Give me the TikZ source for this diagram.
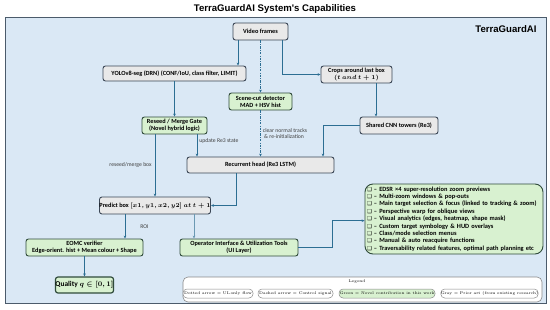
\documentclass[tikz,border=0pt]{standalone}
\usepackage{fontspec}
\usetikzlibrary{arrows.meta,positioning}
\newfontfamily\boxfont{Carlito}
\newfontfamily\titlefont{Liberation Sans}
\newfontfamily\djv{DejaVu Sans}
\definecolor{panelc}{HTML}{DAE8F5}
\definecolor{panelb}{HTML}{4B5B6B}
\definecolor{grayc}{HTML}{E9E9E9}
\definecolor{boxb}{HTML}{3B4756}
\definecolor{greenc}{HTML}{D8F1D0}
\definecolor{greenb}{HTML}{2F4A3A}
\definecolor{arrc}{HTML}{2C6E93}
\definecolor{legb}{HTML}{8A8A8A}
\newcommand{\cb}{{\djv\fontsize{5.4}{5}\selectfont ❑}\ –\ }
\begin{document}
\begin{tikzpicture}[x=1pt,y=-1pt,
  boxtxt/.style={font=\boxfont\bfseries\fontsize{6.3}{7}\selectfont},
  gbox/.style={boxtxt,draw=boxb,fill=grayc,rounded corners=2.5pt,line width=0.9pt,align=center,inner sep=0pt,minimum height=17pt},
  nbox/.style={gbox,fill=greenc,draw=greenb},
  arr/.style={draw=arrc,line width=0.8pt,-{Stealth[length=3pt,width=2.6pt]}},
  thinarr/.style={draw=arrc!70,line width=0.5pt,-{Stealth[length=3pt,width=2.6pt]}},
  ctrl/.style={arr,dash pattern=on 2.5pt off 1.2pt on 0.8pt off 1.2pt},
  lbl/.style={font=\boxfont\fontsize{5.7}{6.8}\selectfont,text=black!75,inner sep=0pt,align=left},
  legpill/.style={draw=legb,fill=white,rounded corners=4pt,line width=0.5pt,minimum height=9pt,inner sep=0pt,font=\fontsize{3.9}{4.5}\selectfont}
]
\useasboundingbox (0,0) rectangle (550,309);
\fill[white] (0,0) rectangle (550,309);
\node[font=\titlefont\bfseries\fontsize{9.6}{11}\selectfont] (title) at (275,9) {TerraGuardAI System's Capabilities};
\draw[fill=panelc,draw=panelb,line width=0.9pt] (5,17) rectangle (546,303);
\node[font=\titlefont\bfseries\fontsize{9.6}{11}\selectfont] (tg) at (506,29) {TerraGuardAI};

\node[gbox,minimum width=55pt] (video) at (260.5,31.5) {Video frames};
\node[gbox,minimum width=143pt,minimum height=15pt] (yolo) at (174.5,73.5) {YOLOv8-seg (DRN) (CONF/IoU, class filter, LIMIT)};
\node[gbox,minimum width=71pt] (crops) at (356.5,74.5) {Crops around last box\\{\boldmath$(t\ and\ t+1)$}};
\node[nbox,minimum width=63pt] (scene) at (260.5,101.5) {Scene-cut detector\\MAD + HSV hist};
\node[nbox,minimum width=65pt] (reseed) at (174.5,125.5) {Reseed / Merge Gate\\(Novel hybrid logic)};
\node[gbox,minimum width=78pt] (shared) at (399,125.5) {Shared CNN towers (Re3)};
\node[gbox,minimum width=147pt,minimum height=16pt] (recur) at (260.5,165) {Recurrent head (Re3 LSTM)};
\node[gbox,minimum width=102pt] (predict) at (155,205.5) {Predict box {\boldmath$[x1, y1, x2, y2]$ $at\ t+1$}};
\node[nbox,minimum width=117pt] (eomc) at (84.5,247.5) {EOMC verifier\\Edge-orient. hist + Mean colour + Shape};
\node[nbox,minimum width=118pt] (oper) at (239,247.5) {Operator Interface \& Utilization Tools\\(UI Layer)};
\node[nbox,minimum width=57pt,minimum height=16pt,line width=1.2pt,font=\boxfont\bfseries\fontsize{7.4}{8}\selectfont] (quality) at (84.5,285) {Quality {\boldmath$q\in[0,1]$}};
\node[nbox,rounded corners=8pt,minimum width=178pt,minimum height=70pt,align=left,text width=174pt,inner xsep=2pt,font=\boxfont\bfseries\fontsize{6.4}{7.4}\selectfont] (feat) at (454,219) {%
\cb EDSR ×4 super-resolution zoom previews\\
\cb Multi-zoom windows \& pop-outs\\
\cb Main target selection \& focus (linked to tracking \& zoom)\\
\cb Perspective warp for oblique views\\
\cb Visual analytics (edges, heatmap, shape mask)\\
\cb Custom target symbology \& HUD overlays\\
\cb Class/mode selection menus\\
\cb Manual \& auto reacquire functions\\
\cb Traversability related features, optimal path planning etc};

% connectors
\draw[arr] ([xshift=-22.5pt]video.south) -- ([xshift=63.5pt]yolo.north);
\draw[arr] ([xshift=21.5pt]video.south) |- (crops.west);
\draw[ctrl] (video.south) -- (scene.north);
\draw[ctrl] (scene.south) -- node[lbl,anchor=west,xshift=2pt] (clr) {clear normal tracks\\\ \& re-initialization} (recur.north);
\draw[arr] (yolo.south) -- (reseed.north);
\draw[arr] ([xshift=19.5pt]crops.south) -- ([xshift=-23pt]shared.north);
\draw[arr] (shared.west) -| ([xshift=62.5pt]recur.north);
\draw[arr] ([xshift=22.5pt]reseed.south) -- node[lbl,anchor=west,xshift=2pt,pos=0.3] (upd) {update Re3 state} ([xshift=-63.5pt]recur.north);
\draw[arr] ([xshift=-19.5pt]reseed.south) -- node[lbl,anchor=east,xshift=-3pt,pos=0.5] (rmb) {reseed/merge box} (predict.north);
\draw[arr] ([xshift=-24.5pt]recur.south) |- (predict.east);
\draw[arr] ([xshift=-30pt]predict.south) -- node[lbl,anchor=west,xshift=15pt] (roi) {ROI} ([xshift=40.5pt]eomc.north);
\draw[thinarr] ([xshift=39pt]predict.south) -- ([xshift=-45pt]oper.north);
\draw[arr] (eomc.south) -- (quality.north);
\draw[arr] (oper.east) -- ++(34,0) |- ([yshift=-1.7pt]feat.west);

% legend
\draw[draw=legb,fill=white,rounded corners=5pt,line width=0.6pt] (183,277) rectangle (542,302);
\node[font=\fontsize{3.9}{4.5}\selectfont] (legt) at (357,281.5) {Legend};
\node[legpill,minimum width=70pt] (l1) at (218,293.5) {Dotted arrow = UI-only flow};
\node[legpill,minimum width=75pt] (l2) at (295.5,293.5) {Dashed arrow = Control signal};
\node[legpill,minimum width=96pt,fill=greenc] (l3) at (387,293.5) {Green = Novel contribution in this work};
\node[legpill,minimum width=97pt] (l4) at (489.5,293.5) {Gray = Prior art (from existing research)};
\end{tikzpicture}
\end{document}
